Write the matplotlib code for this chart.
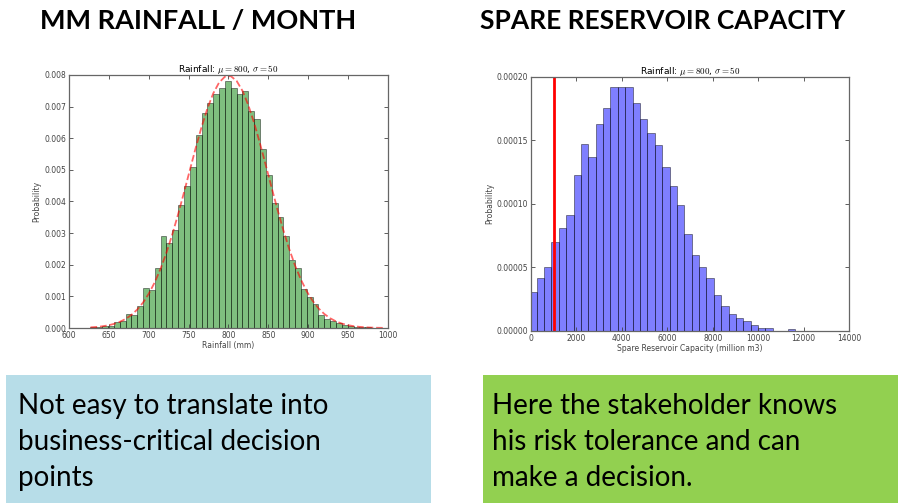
import numpy as np
import matplotlib
matplotlib.use("Agg")
import matplotlib.pyplot as plt
from matplotlib.patches import Rectangle

# left panel: rainfall histogram (normalised), 50 equal bins
rain_bin_start = 627.0
rain_bin_width = 7.33
rain_density = [
    0.00002, 0.00004, 0.00005, 0.00007, 0.00019, 0.00021, 0.00044, 0.00040, 0.00070, 0.00128,
    0.00120, 0.00190, 0.00290, 0.00270, 0.00310, 0.00390, 0.00450, 0.00510, 0.00610, 0.00680,
    0.00710, 0.00740, 0.00760, 0.00780, 0.00760, 0.00740, 0.00750, 0.00685, 0.00660, 0.00565,
    0.00485, 0.00395, 0.00350, 0.00290, 0.00215, 0.00190, 0.00122, 0.00098, 0.00075, 0.00040,
    0.00027, 0.00021, 0.00016, 0.00010, 0.00006, 0.00004, 0.00003, 0.00002, 0.00001, 0.00001,
]
rain_mu = 800
rain_sigma = 50
rain_xticks = [600, 650, 700, 750, 800, 850, 900, 950, 1000]
rain_yticks = [0.000, 0.001, 0.002, 0.003, 0.004, 0.005, 0.006, 0.007, 0.008]

# right panel: spare reservoir capacity histogram (normalised)
cap_bin_start = -75.0
cap_bin_width = 325.0
cap_density = [
    0.000031, 0.0000416, 0.000050, 0.000070, 0.000081, 0.000091, 0.000123, 0.000147, 0.000137, 0.000163,
    0.000175, 0.000192, 0.000192, 0.000192, 0.000179, 0.000167, 0.000156, 0.000146, 0.000129, 0.000114,
    0.0000987, 0.000076, 0.000060, 0.000050, 0.000042, 0.000028, 0.000020, 0.000013, 0.0000105, 0.0000075,
    0.0000047, 0.000002, 0.000002, 0.0, 0.0, 0.0000015, 0.0000003, 0.0, 0.0, 0.0000003,
    0.0, 0.0000003, 0.0000003, 0.0,
]
risk_threshold = 1000
cap_xticks = [0, 2000, 4000, 6000, 8000, 10000, 12000, 14000]
cap_yticks = [0.0, 0.00005, 0.00010, 0.00015, 0.00020]

heading_left = "MM RAINFALL / MONTH"
heading_right = "SPARE RESERVOIR CAPACITY"
note_left = "Not easy to translate into\nbusiness-critical decision\npoints"
note_right = "Here the stakeholder knows\nhis risk tolerance and can\nmake a decision."
panel_title = r"Rainfall: $\mu=800$, $\sigma=50$"

plt.rcParams["mathtext.fontset"] = "cm"


def style_axes(ax):
    for s in ax.spines.values():
        s.set_color("#666666")
        s.set_linewidth(0.9)
    ax.tick_params(direction="in", top=True, right=True, length=3, width=0.6,
                   labelsize=5.5, colors="#444444", pad=2)
    ax.set_title(panel_title, fontsize=6.5, pad=2)
    ax.set_ylabel("Probability", fontsize=5.5, color="#444444", labelpad=2)


fig = plt.figure(figsize=(8.98, 5.04), dpi=100)

# left histogram
ax1 = fig.add_axes([0.0768, 0.3492, 0.3552, 0.502])
rain_edges = rain_bin_start + rain_bin_width * np.arange(len(rain_density) + 1)
ax1.bar(rain_edges[:-1], rain_density, width=rain_bin_width, align="edge",
        color="green", alpha=0.5, edgecolor="black", linewidth=0.6)
pdf = np.exp(-0.5 * ((rain_edges - rain_mu) / rain_sigma) ** 2) / (rain_sigma * np.sqrt(2 * np.pi))
ax1.plot(rain_edges, pdf, "r--", linewidth=1.3, alpha=0.6)
ax1.set_xlim(600, 1000)
ax1.set_ylim(0, 0.008)
ax1.set_xticks(rain_xticks)
ax1.set_yticks(rain_yticks)
ax1.set_yticklabels([f"{v:.3f}" for v in rain_yticks])
ax1.set_xlabel("Rainfall (mm)", fontsize=5.5, color="#444444", labelpad=1)
style_axes(ax1)

# right histogram
ax2 = fig.add_axes([0.5913, 0.3433, 0.3541, 0.5046])
cap_edges = cap_bin_start + cap_bin_width * np.arange(len(cap_density) + 1)
ax2.bar(cap_edges[:-1], cap_density, width=cap_bin_width, align="edge",
        color="blue", alpha=0.5, edgecolor="black", linewidth=0.6)
ax2.axvline(risk_threshold, color="red", linewidth=2)
ax2.set_xlim(0, 14000)
ax2.set_ylim(0, 0.0002)
ax2.set_xticks(cap_xticks)
ax2.set_yticks(cap_yticks)
ax2.set_yticklabels([f"{v:.5f}" for v in cap_yticks])
ax2.set_xlabel("Spare Reservoir Capacity (million m3)", fontsize=5.5, color="#444444", labelpad=1)
style_axes(ax2)

# headings
fig.text(40 / 898, 1 - 21 / 504, heading_left, fontsize=19.5, fontweight="bold",
         family="Lato", va="center", ha="left")
fig.text(480 / 898, 1 - 21 / 504, heading_right, fontsize=19, fontweight="bold",
         family="Lato", va="center", ha="left")

# note boxes
fig.patches.append(Rectangle((6 / 898, 1 - 503 / 504), 425 / 898, 128 / 504,
                             transform=fig.transFigure, facecolor="#B7DDE8",
                             edgecolor="none", zorder=0))
fig.patches.append(Rectangle((483 / 898, 1 - 503 / 504), 415 / 898, 128 / 504,
                             transform=fig.transFigure, facecolor="#92D050",
                             edgecolor="none", zorder=0))
fig.text(18 / 898, 1 - 393 / 504, note_left, fontsize=20, family="Lato",
         va="top", ha="left", linespacing=1.48)
fig.text(492 / 898, 1 - 393 / 504, note_right, fontsize=20, family="Lato",
         va="top", ha="left", linespacing=1.48)

fig.savefig("out.png", dpi=100)
